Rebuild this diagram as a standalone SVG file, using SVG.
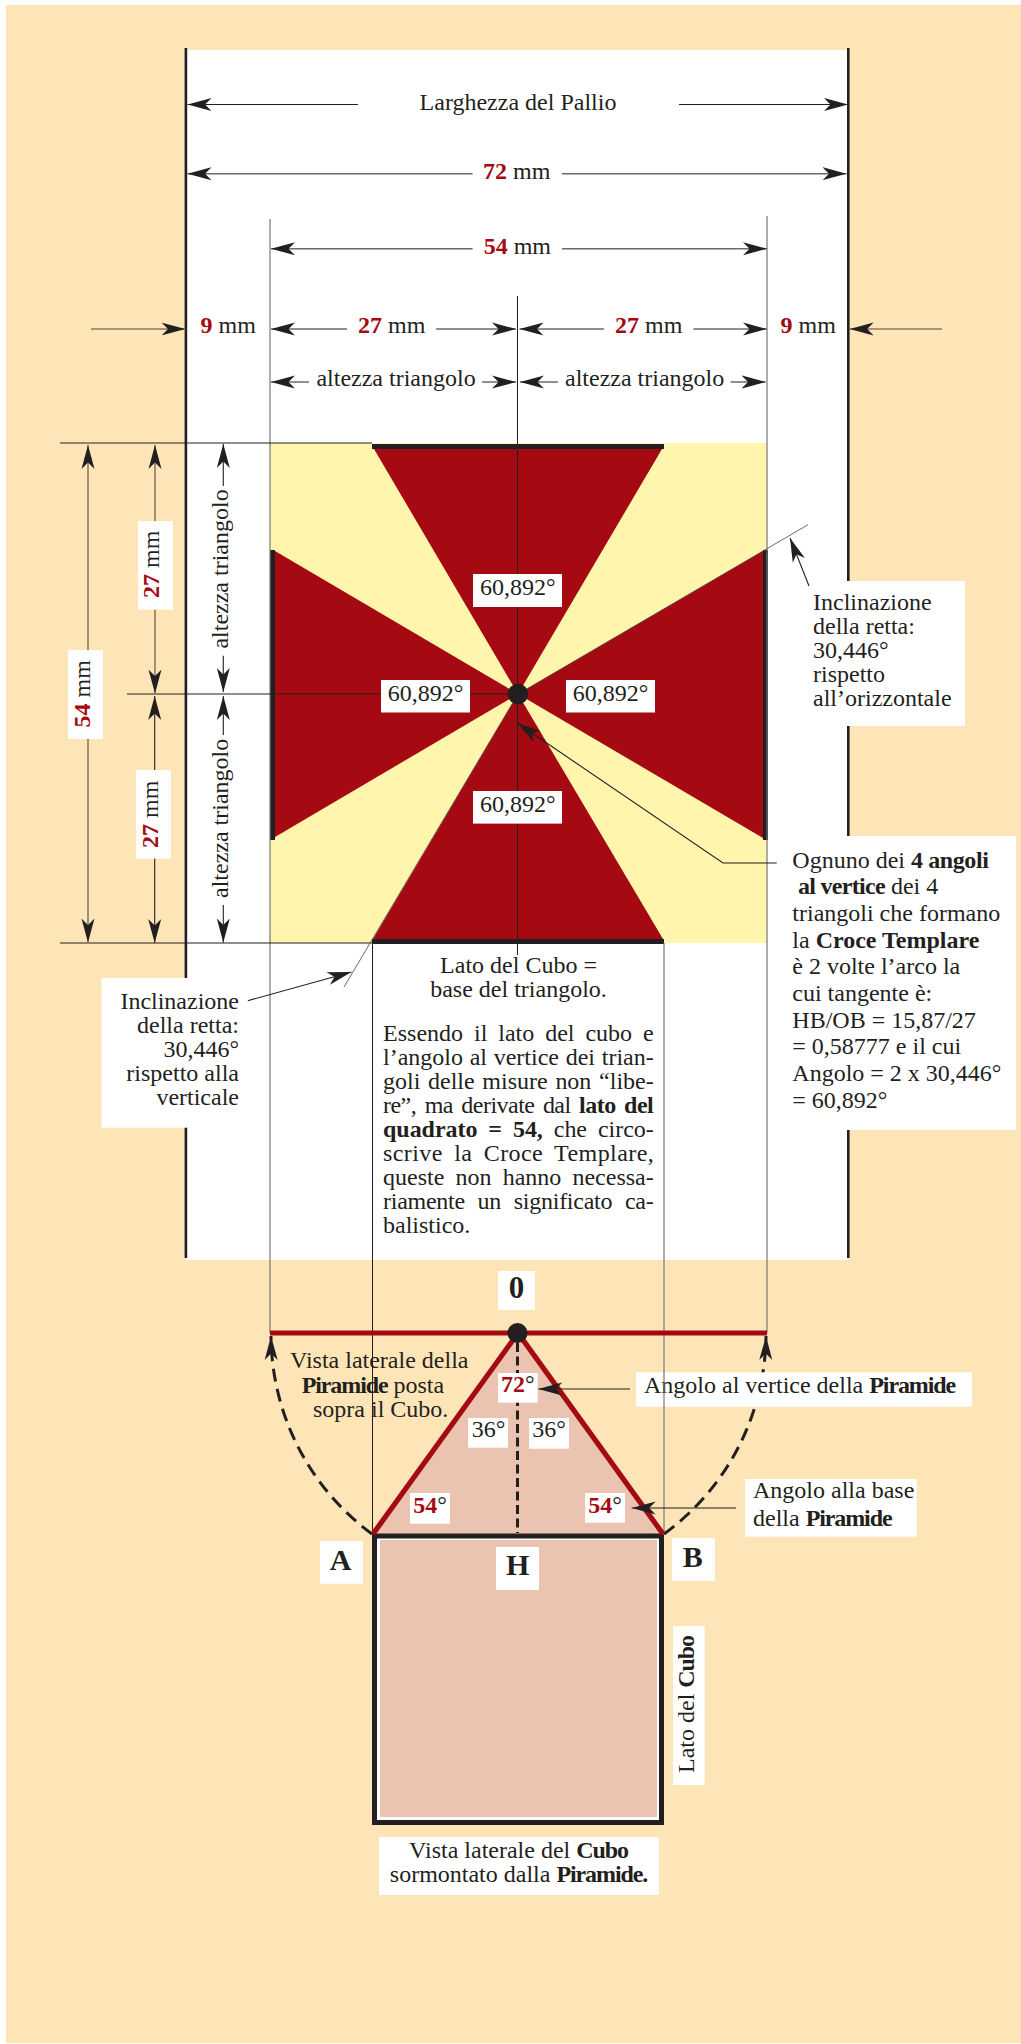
<svg xmlns="http://www.w3.org/2000/svg" width="1021" height="2044" viewBox="0 0 1021 2044">
<style>
text{font-family:"Liberation Serif","Times New Roman",serif;font-size:24px;fill:#231f20}
.b{font-weight:bold}
.r{font-weight:bold;fill:#a50a12}
.p{font-weight:bold;letter-spacing:-1.1px}
.big{font-weight:bold;font-size:30px;text-anchor:middle}
.m{text-anchor:middle}
.e{text-anchor:end}
.w{fill:#fff}
.thin{fill:none;stroke:#231f20;stroke-width:1}
.edge{fill:none;stroke:#4a4644;stroke-width:.8}
.grey{fill:none;stroke:#777;stroke-width:1.2}
.dim{fill:none;stroke:#6e6a66;stroke-width:1.6;marker-end:url(#ah)}
.dk{fill:none;stroke:#231f20;stroke-width:1.1;marker-end:url(#ah)}
.tan{fill:none;stroke:#8a7a60;stroke-width:1.6;marker-end:url(#ah)}
.arc{fill:none;stroke:#231f20;stroke-width:3;stroke-dasharray:13 7.5;marker-end:url(#ah)}
.red{fill:#a50a12}
.bar{fill:#231f20}
.flesh{fill:#eac3b1}
</style>
<defs>
<marker id="ah" markerUnits="userSpaceOnUse" markerWidth="26" markerHeight="16" refX="24" refY="8" orient="auto"><path d="M24,8 L0,1.5 L6.5,8 L0,14.5 Z" fill="#231f20"/></marker>
</defs>
<rect x="6" y="5" width="1015" height="2038" fill="#fee5b7"/>
<rect class="w" x="186" y="50" width="662" height="1210"/>
<g id="pallio-edges">
<rect class="bar" x="184.600" y="48" width="2.600" height="1210"/>
<rect class="bar" x="847" y="48" width="2.600" height="1210"/>
</g>
<g id="croce-templare">
<rect x="270" y="443" width="497" height="500" fill="#fff5ad"/>
<polygon class="red" points="518,694 374,449 662,449"/>
<polygon class="red" points="518,694 373,939 663,939"/>
<polygon class="red" points="518,694 275,551 275,837"/>
<polygon class="red" points="518,694 763,551 763,838"/>
<rect class="bar" x="372" y="444" width="292" height="5"/>
<rect class="bar" x="372" y="939" width="292" height="5"/>
<rect class="bar" x="270" y="550" width="5" height="290"/>
<rect class="bar" x="763" y="550" width="5" height="290"/>
</g>
<g id="piramide">
<polygon class="flesh" points="518,1333 373,1534 663,1534"/>
</g>
<g id="cubo">
<rect x="372" y="1533.500" width="292" height="291.500" fill="#231f20"/>
<rect class="w" x="377" y="1538.500" width="282" height="281.500"/>
<rect class="flesh" x="380" y="1540" width="277" height="277"/>
</g>
<g id="connectors">
<path class="grey" d="M270,219V1333M767,216V1333M664,943V1535"/>
<path class="thin" d="M517.500,296V955M372.500,943V1535M60,443H372M60,943H372M127,694H517"/>
<path class="edge" d="M518,694L763,551L808,524.700M518,694L344,987"/>
<path class="dk" d="M358,104.500H187.500"/>
<path class="dk" d="M679,104.500H848"/>
<path class="dim" d="M472.600,173.700H187.500"/>
<path class="dim" d="M562,173.700H846.500"/>
<path class="dim" d="M472.600,248.700H271"/>
<path class="dim" d="M562,248.700H767"/>
<path class="tan" d="M91,329H185.500"/>
<path class="dim" d="M347,329H271"/>
<path class="dim" d="M436,329H516"/>
<path class="dim" d="M604,329H519.500"/>
<path class="dim" d="M693.400,329H767"/>
<path class="tan" d="M942,329H849.600"/>
<path class="dim" d="M309,382H271"/>
<path class="dim" d="M482,382H516"/>
<path class="dim" d="M558,382H520"/>
<path class="dim" d="M730.500,382H765.600"/>
<path class="tan" d="M88,660V445"/>
<path class="tan" d="M88,730V942.500"/>
<path class="tan" d="M155,530V445"/>
<path class="tan" d="M155,600V693.600"/>
<path class="dk" d="M154.700,780V696"/>
<path class="dk" d="M154.700,850V943"/>
<path class="dk" d="M223.300,486V444"/>
<path class="dk" d="M223.300,655.700V692"/>
<path class="dk" d="M223.300,735V696"/>
<path class="dk" d="M223.300,905V942.500"/>
<path class="dk" d="M809,586L790,538"/>
<path class="dk" d="M776.700,863H723L517.300,723"/>
<path class="dk" d="M247.700,1000.700L351.400,972"/>
<path class="arc" d="M372,1534A248,248 0 0 1 271,1336"/>
<path class="arc" d="M664,1534A248,248 0 0 0 766,1336"/>
<path fill="none" stroke="#a50a12" stroke-width="5.200" d="M270,1333H767M373,1534L518,1333L663,1534"/>
<path fill="none" stroke="#231f20" stroke-width="3" stroke-dasharray="9 4.500" d="M517.500,1343V1533"/>
<path class="dk" d="M630,1389H538.300"/>
<path class="dk" d="M736,1508H631.700"/>
</g>
<circle cx="518" cy="694" r="10.300" class="bar"/>
<circle cx="517.500" cy="1333" r="10" class="bar"/>
<g id="dim-labels">
<text x="518" y="109.500" class="m">Larghezza del Pallio</text>
<text x="483" y="179"><tspan class="r">72</tspan> mm</text>
<text x="483.700" y="254"><tspan class="r">54</tspan> mm</text>
<text x="200.500" y="333"><tspan class="r">9</tspan> mm</text>
<text x="358" y="333"><tspan class="r">27</tspan> mm</text>
<text x="615" y="333"><tspan class="r">27</tspan> mm</text>
<text x="780.600" y="333"><tspan class="r">9</tspan> mm</text>
<text x="316.400" y="386">altezza triangolo</text>
<text x="565" y="386">altezza triangolo</text>
<g id="label-54"><rect class="w" x="68" y="650" width="35" height="89"/><text transform="translate(90,727.500) rotate(-90)"><tspan class="r">54</tspan> mm</text></g>
<g id="label-27a"><rect class="w" x="138" y="521" width="35" height="88.600"/><text transform="translate(159,598) rotate(-90)"><tspan class="r">27</tspan> mm</text></g>
<g id="label-27b"><rect class="w" x="136" y="770" width="35" height="88.600"/><text transform="translate(158,848) rotate(-90)"><tspan class="r">27</tspan> mm</text></g>
<text transform="translate(228.300,648.600) rotate(-90)">altezza triangolo</text>
<text transform="translate(228.300,898) rotate(-90)">altezza triangolo</text>
</g>
<g id="angle-top"><rect class="w" x="473" y="574" width="89" height="33"/><text x="480" y="595">60,892°</text></g>
<g id="angle-left"><rect class="w" x="381" y="680" width="89" height="32.500"/><text x="387.700" y="701">60,892°</text></g>
<g id="angle-right"><rect class="w" x="566" y="680" width="89" height="32.500"/><text x="572.700" y="701">60,892°</text></g>
<g id="angle-bottom"><rect class="w" x="473" y="791" width="89" height="32.600"/><text x="480" y="812">60,892°</text></g>
<g id="note-orizzontale"><rect class="w" x="812" y="581" width="153" height="145"/>
<text x="813" y="609.600">Inclinazione</text><text x="813" y="633.600">della retta:</text><text x="813" y="657.600">30,446°</text><text x="813" y="681.600">rispetto</text><text x="813" y="705.600">all’orizzontale</text></g>
<g id="note-angoli"><rect class="w" x="785" y="836" width="231" height="294"/>
<text x="792.300" y="867.700">Ognuno dei <tspan class="b" letter-spacing="-.4">4 angoli</tspan></text>
<text x="798" y="894.300"><tspan class="b" letter-spacing="-.7">al vertice</tspan> dei 4</text>
<text x="792.300" y="921">triangoli che formano</text>
<text x="792.300" y="947.700">la <tspan class="b">Croce Templare</tspan></text>
<text x="792.300" y="974.300">è 2 volte l’arco la</text>
<text x="792.300" y="1001">cui tangente è:</text>
<text x="792.300" y="1027.700">HB/OB = 15,87/27</text>
<text x="792.300" y="1054.300">= 0,58777 e il cui</text>
<text x="792.300" y="1081">Angolo = 2 x 30,446°</text>
<text x="792.300" y="1107.700">= 60,892°</text></g>
<g id="note-verticale"><rect class="w" x="101.500" y="978" width="146" height="149.700"/>
<text x="239" y="1009" class="e">Inclinazione</text><text x="239" y="1033" class="e">della retta:</text><text x="239" y="1057" class="e">30,446°</text><text x="239" y="1081" class="e">rispetto alla</text><text x="239" y="1105" class="e">verticale</text></g>
<g id="note-lato">
<text x="518.500" y="973" class="m">Lato del Cubo =</text>
<text x="518.500" y="997" class="m">base del triangolo.</text>
<text x="383" y="1041" word-spacing="4.900" textLength="270.700">Essendo il lato del cubo e</text>
<text x="383" y="1065" word-spacing="0.700" textLength="270.700">l’angolo al vertice dei trian-</text>
<text x="383" y="1089" word-spacing="1.700" textLength="270.700">goli delle misure non “libe-</text>
<text x="383" y="1113" word-spacing="3" textLength="270.700">re”, ma derivate dal <tspan class="b">lato del</tspan></text>
<text x="383" y="1137" word-spacing="5" textLength="270.700"><tspan class="b">quadrato = 54,</tspan> che circo-</text>
<text x="383" y="1161" word-spacing="5" textLength="270.700">scrive la Croce Templare,</text>
<text x="383" y="1185" word-spacing="5.200" textLength="270.700">queste non hanno necessa-</text>
<text x="383" y="1209" word-spacing="7" textLength="270.700">riamente un significato ca-</text>
<text x="383" y="1233">balistico.</text>
</g>
<g id="point-0"><rect class="w" x="498" y="1271" width="37" height="39"/><text x="516.500" y="1298" class="big" style="font-size:31px">0</text></g>
<g id="note-vista">
<text x="290" y="1368">Vista laterale della</text>
<text x="301.700" y="1392.700"><tspan class="p">Piramide</tspan> posta</text>
<text x="313" y="1416.700">sopra il Cubo.</text>
</g>
<g id="angle-72"><rect class="w" x="498" y="1373" width="39.700" height="29.700"/><text x="501" y="1391.700"><tspan class="r">72</tspan>°</text></g>
<g id="angle-36a"><rect class="w" x="468" y="1418" width="40" height="29.700"/><text x="471.700" y="1437">36°</text></g>
<g id="angle-36b"><rect class="w" x="529" y="1418" width="40" height="30.700"/><text x="532.300" y="1437">36°</text></g>
<g id="angle-54a"><rect class="w" x="410" y="1493" width="40" height="30.700"/><text x="413.300" y="1513"><tspan class="r">54</tspan>°</text></g>
<g id="angle-54b"><rect class="w" x="585" y="1493" width="40" height="29.700"/><text x="588.300" y="1513"><tspan class="r">54</tspan>°</text></g>
<g id="note-vertice"><rect class="w" x="636" y="1372.300" width="336" height="34.400"/><text x="644" y="1393.300">Angolo al vertice della <tspan class="p">Piramide</tspan></text></g>
<g id="note-base"><rect class="w" x="745" y="1479" width="171.700" height="57.700"/><text x="753" y="1498.300">Angolo alla base</text><text x="753" y="1525.700">della <tspan class="p">Piramide</tspan></text></g>
<path class="grey" d="M664,1372V1407"/>
<path class="thin" d="M372.500,1345V1425"/>
<g id="point-A"><rect class="w" x="320" y="1541" width="43" height="42.700"/><text x="340.700" y="1570" class="big">A</text></g>
<g id="point-B"><rect class="w" x="672" y="1538" width="43" height="42.700"/><text x="692.700" y="1566.700" class="big">B</text></g>
<g id="point-H"><rect class="w" x="496" y="1547" width="43" height="43"/><text x="517.700" y="1575" class="big">H</text></g>
<g id="label-lato-cubo"><rect class="w" x="673" y="1626" width="31.700" height="159"/><text transform="translate(694,1773) rotate(-90)">Lato del <tspan class="p">Cubo</tspan></text></g>
<g id="note-cubo"><rect class="w" x="379" y="1837" width="279.800" height="58"/>
<text x="518.500" y="1858" class="m">Vista laterale del <tspan class="p">Cubo</tspan></text>
<text x="518.500" y="1881.700" class="m">sormontato dalla <tspan class="p">Piramide.</tspan></text></g>
</svg>
